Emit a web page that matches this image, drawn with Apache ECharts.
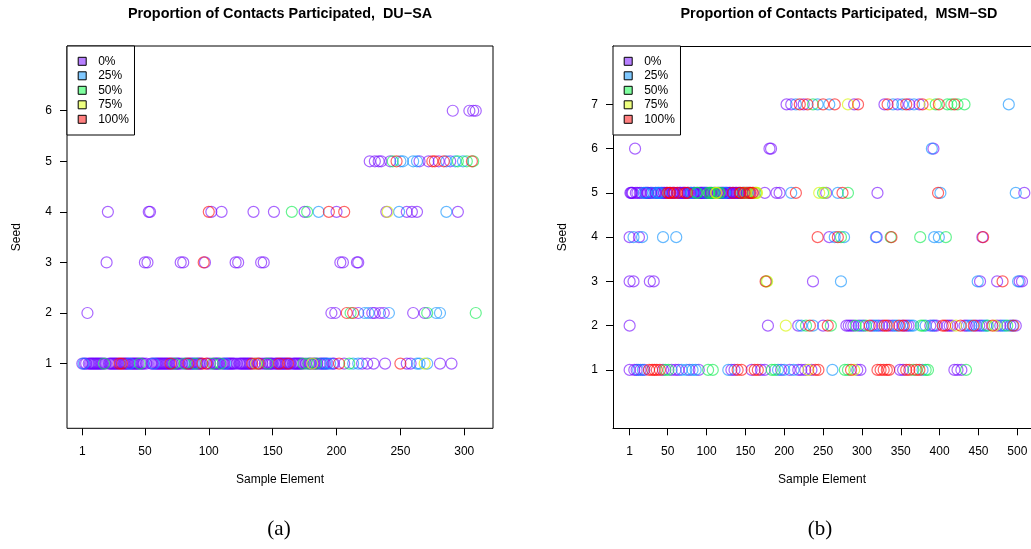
<!DOCTYPE html>
<html>
<head>
<meta charset="utf-8">
<script src="https://cdn.jsdelivr.net/npm/echarts@6/dist/echarts.min.js"></script>
<style>
html,body{margin:0;padding:0;background:#fff;}
#chart{width:1031px;height:549px;}
</style>
</head>
<body>
<div id="chart"></div>
<script>
// ---------------- DATA ----------------
const categories = ['0%', '25%', '50%', '75%', '100%'];
const xTicksA = [1, 50, 100, 150, 200, 250, 300];
const xTicksB = [1, 50, 100, 150, 200, 250, 300, 350, 400, 450, 500];
const seedTicksA = [1, 2, 3, 4, 5, 6];
const seedTicksB = [1, 2, 3, 4, 5, 6, 7];

// Panel (a) DU-SA : sample elements per seed (row index = seed - 1), per category
const duSa0 = [
  [1,3,4,6,7,8,9,10,11,12,13,14,15,16,17,19,22,23,24,25,26,27,28,29,31,33,34,35,36,37,39,40,41,42,43,44,45,47,48,49,51,55,56,58,59,60,61,62,63,64,65,66,67,68,69,71,72,74,75,76,77,79,82,83,85,86,87,89,91,92,93,94,99,101,104,105,106,107,108,111,112,114,115,116,117,118,119,120,122,124,125,126,127,128,129,130,131,132,133,136,138,140,142,144,145,147,148,149,150,152,153,154,156,157,158,159,160,161,163,164,166,167,168,169,170,171,172,173,176,179,180,182,183,185,187,188,190,191,193,197,198,206,220,224,229,238,255,258,281,290],
  [5,196,199,217,228,230,234,237,260,269],
  [20,50,52,78,80,97,121,123,141,143,203,205,216,217],
  [21,53,54,102,110,135,151,175,200,239,255,259,263,295],
  [226,230,233,235,242,265,272,280,289],
  [291,304,307,309]
];
const duSa25 = [
  [2,38,57,88,113,189,192,195,213,217,263,265,271],
  [222,225,241,278,281],
  [],
  [186,249,286],
  [250,252,260,263,286,293,299],
  []
];
const duSa50 = [
  [18,46,73,81,90,103,109,146,174,178,184,210],
  [211,271,309],
  [],
  [165,177],
  [244,295,302,307],
  []
];
const duSa75 = [
  [137,181,269],
  [],
  [],
  [240],
  [],
  []
];
const duSa100 = [
  [30,32,70,84,95,98,134,139,155,162,202,250],
  [208,213],
  [96],
  [100,194,206],
  [247,275,277,284,306],
  []
];

// Panel (b) MSM-SD
const msmSd0 = [
  [1,7,10,15,20,44,55,60,64,78,90,132,136,158,170,175,196,207,218,222,227,235,294,298,349,353,419,423,428],
  [1,179,218,250,280,283,286,289,296,302,313,322,326,335,339,352,357,360,388,393,396,410,413,416,432,435,447,451,454,474,478,491,498],
  [1,6,27,32,237,452,474,503,506],
  [1,13,258,319,455],
  [2,3,4,5,9,11,14,16,21,23,24,25,28,29,34,35,39,42,43,45,46,48,49,54,56,57,59,63,65,66,67,69,70,71,72,76,77,79,83,84,85,89,91,92,93,94,95,96,97,99,100,101,105,106,110,111,114,115,118,119,120,121,122,125,126,127,129,130,131,133,135,137,138,139,141,142,147,148,151,152,154,156,160,175,190,194,254,320,509],
  [8,181,183,392],
  [203,209,225,290,329,346,361,374]
];
const msmSd25 = [
  [12,18,68,74,82,86,128,192,200,212,262,378],
  [222,237,299,316,319,342,345,363,366,382,391,438,441,457,460,481,484,494],
  [273,449,501],
  [6,17,44,61,265,277,318,393,399],
  [19,22,31,37,38,41,80,81,98,123,124,209,269,401,498],
  [390],
  [215,243,258,340,352,367,489]
];
const msmSd50 = [
  [47,51,102,108,184,188,278,282,366,382,385,434],
  [228,260,292,305,376,379,462,487],
  [177],
  [273,337,375,408],
  [87,88,103,104,107,109,116,117,146,153,163,250,282],
  [],
  [237,395,410,415,423,432]
];
const msmSd75 = [
  [231,290],
  [202,421,471],
  [178],
  [],
  [112,113,150,161,164,165,245,252],
  [],
  [282,387]
];
const msmSd100 = [
  [26,30,33,36,40,140,145,162,166,240,244,286,320,324,328,332,335,357,361,370,374],
  [233,256,310,329,332,348,354,404,407,427,444,468,495],
  [176,481],
  [243,269,338,456],
  [50,52,53,58,62,73,75,134,143,144,149,155,157,159,215,275,398],
  [],
  [220,230,250,265,295,333,357,378,399,419]
];

// ---------------- STYLE ----------------
const strokeColors = ['rgba(112,0,255,0.6)', 'rgba(0,140,255,0.6)', 'rgba(0,235,70,0.6)', 'rgba(215,245,0,0.65)', 'rgba(255,0,0,0.6)'];
const legendFill = ['#B77FFF', '#7FC8FF', '#7FFF9F', '#EEFF7F', '#FF7F7F'];
const FONT = "'Liberation Sans', Arial, Helvetica, sans-serif";
const LINE = { color: '#000', width: 1 };

function toPairs(rows) {
  const out = [];
  rows.forEach((xs, i) => xs.forEach(x => out.push([x, i + 1])));
  return out;
}

const panels = [
  [duSa0, duSa25, duSa50, duSa75, duSa100],
  [msmSd0, msmSd25, msmSd50, msmSd75, msmSd100]
];

const series = [];
panels.forEach((cats, p) => {
  cats.forEach((rows, c) => {
    series.push({
      type: 'scatter',
      name: categories[c],
      xAxisIndex: p,
      yAxisIndex: p,
      data: toPairs(rows),
      symbol: 'circle',
      symbolSize: 11,
      silent: true,
      itemStyle: { color: 'rgba(0,0,0,0)', borderColor: strokeColors[c], borderWidth: 1.2, opacity: 1 },
      emphasis: { disabled: true }
    });
  });
});

function xAxisCfg(grid, min, max, ticks, showLine) {
  return {
    type: 'value', gridIndex: grid, min: min, max: max, position: 'bottom',
    axisLine: { show: showLine, onZero: false, lineStyle: LINE },
    splitLine: { show: false },
    axisTick: { show: true, inside: false, customValues: ticks, length: 7, lineStyle: LINE },
    axisLabel: { customValues: ticks, color: '#000', fontSize: 12, fontFamily: FONT, margin: 17, showMinLabel: true, showMaxLabel: true },
    name: 'Sample Element', nameLocation: 'middle', nameGap: 45,
    nameTextStyle: { color: '#000', fontSize: 12, fontFamily: FONT }
  };
}
function yAxisCfg(grid, min, max, ticks, showLine) {
  return {
    type: 'value', gridIndex: grid, min: min, max: max, position: 'left',
    axisLine: { show: showLine, onZero: false, lineStyle: LINE },
    splitLine: { show: false },
    axisTick: { show: true, inside: false, customValues: ticks, length: 7, lineStyle: LINE },
    axisLabel: { customValues: ticks, color: '#000', fontSize: 12, fontFamily: FONT, margin: 15 },
    name: 'Seed', nameLocation: 'middle', nameGap: 44,
    nameTextStyle: { color: '#000', fontSize: 12, fontFamily: FONT }
  };
}
function legendCfg(left) {
  return {
    show: true, orient: 'vertical', left: left, top: 46,
    padding: [9.3, 5.6, 9.7, 10.7],
    itemWidth: 8, itemHeight: 8, itemGap: 2.5,
    icon: 'rect',
    selectedMode: false,
    backgroundColor: '#fff', borderColor: '#000', borderWidth: 1, borderRadius: 0,
    textStyle: { color: '#000', fontSize: 12, lineHeight: 12, fontFamily: FONT, padding: [0, 0, 0, 7] },
    data: categories.map((n, i) => ({ name: n, icon: 'rect', itemStyle: { color: legendFill[i], borderColor: '#000', borderWidth: 1, opacity: 1 } }))
  };
}

const option = {
  animation: false,
  backgroundColor: '#fff',
  title: [
    { text: 'Proportion of Contacts Participated,  DU\u2212SA', left: 280, top: 7, textAlign: 'center', padding: 0,
      textStyle: { fontSize: 14.4, fontWeight: 'bold', color: '#000', fontFamily: FONT } },
    { text: 'Proportion of Contacts Participated,  MSM\u2212SD', left: 839, top: 7, textAlign: 'center', padding: 0,
      textStyle: { fontSize: 14.4, fontWeight: 'bold', color: '#000', fontFamily: FONT } },
    { text: '(a)', left: 279, top: 519, textAlign: 'center', padding: 0,
      textStyle: { fontSize: 21, fontWeight: 'normal', color: '#000', fontFamily: "'Liberation Serif', 'DejaVu Serif', serif" } },
    { text: '(b)', left: 820, top: 519, textAlign: 'center', padding: 0,
      textStyle: { fontSize: 21, fontWeight: 'normal', color: '#000', fontFamily: "'Liberation Serif', 'DejaVu Serif', serif" } }
  ],
  grid: [
    { left: 67, top: 46, width: 426, height: 382.3, show: true, borderColor: '#000', borderWidth: 1, backgroundColor: 'rgba(0,0,0,0)', containLabel: false },
    { left: 613, top: 46, width: 419, height: 382.3, show: false, containLabel: false }
  ],
  xAxis: [
    xAxisCfg(0, -11, 322.5, xTicksA, false),
    xAxisCfg(1, -20.4, 517.6, xTicksB, true),
    // top border of panel (b), whose right side runs past the page edge
    { type: 'value', gridIndex: 1, min: -20.4, max: 517.6, position: 'top',
      axisLine: { show: true, onZero: false, lineStyle: LINE },
      axisTick: { show: false }, axisLabel: { show: false }, splitLine: { show: false } }
  ],
  yAxis: [yAxisCfg(0, -0.28, 7.28, seedTicksA, false), yAxisCfg(1, -0.32, 8.32, seedTicksB, true)],
  legend: [legendCfg(67), legendCfg(613)],
  series: series
};

const chart = echarts.init(document.getElementById('chart'), null, { renderer: 'canvas' });
chart.setOption(option);
</script>
</body>
</html>
